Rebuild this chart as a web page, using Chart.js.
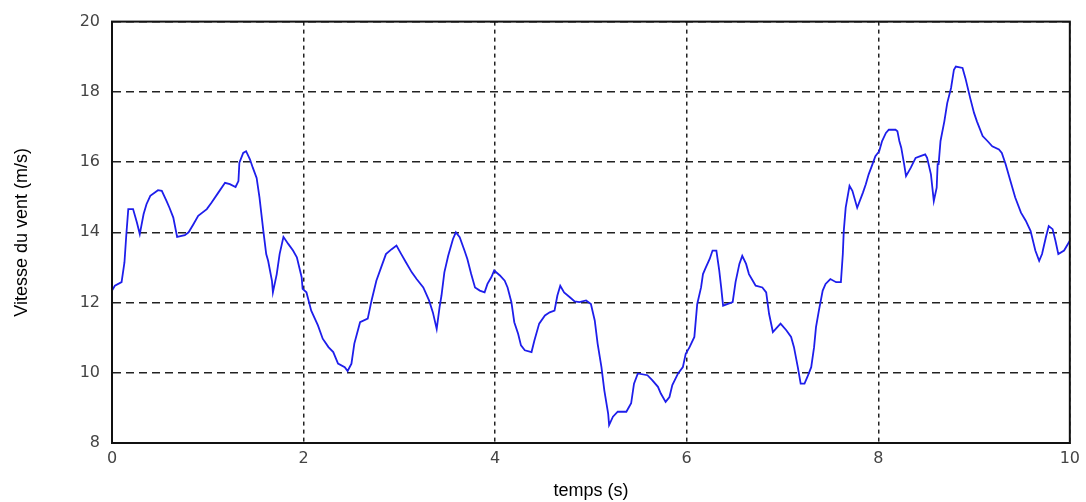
<!DOCTYPE html>
<html>
<head>
<meta charset="utf-8">
<script src="https://cdn.jsdelivr.net/npm/chart.js@4"></script>
<style>
html,body{margin:0;padding:0;background:#fff;}
canvas{display:block;}
</style>
</head>
<body>
<canvas id="c" width="1086" height="502"></canvas>
<script>
const timeS = [0,0.03,0.10,0.13,0.15,0.17,0.22,0.26,0.29,0.33,0.36,0.40,0.48,0.52,0.57,0.60,0.64,0.68,0.76,0.80,0.85,0.90,0.99,1.04,1.11,1.18,1.23,1.29,1.32,1.33,1.37,1.40,1.44,1.47,1.51,1.54,1.58,1.61,1.63,1.67,1.68,1.72,1.75,1.79,1.84,1.89,1.93,1.98,1.99,2.03,2.08,2.15,2.20,2.26,2.31,2.36,2.43,2.46,2.50,2.53,2.59,2.67,2.71,2.76,2.81,2.86,2.92,2.97,3.02,3.07,3.13,3.18,3.25,3.28,3.31,3.35,3.39,3.42,3.44,3.47,3.51,3.56,3.59,3.63,3.68,3.71,3.75,3.79,3.84,3.89,3.92,3.96,3.99,4.05,4.10,4.13,4.17,4.20,4.24,4.27,4.31,4.38,4.41,4.46,4.52,4.57,4.62,4.65,4.68,4.72,4.78,4.83,4.88,4.95,5.00,5.04,5.07,5.11,5.14,5.18,5.19,5.23,5.28,5.37,5.42,5.45,5.49,5.59,5.64,5.70,5.73,5.78,5.82,5.85,5.91,5.96,5.99,6.03,6.08,6.11,6.15,6.17,6.20,6.24,6.27,6.31,6.34,6.36,6.38,6.43,6.48,6.51,6.55,6.58,6.62,6.65,6.69,6.72,6.79,6.83,6.86,6.90,6.93,6.98,7.04,7.09,7.12,7.16,7.19,7.23,7.26,7.30,7.33,7.35,7.38,7.42,7.45,7.50,7.56,7.61,7.63,7.64,7.66,7.70,7.73,7.78,7.84,7.87,7.90,7.94,7.97,8.01,8.04,8.08,8.11,8.18,8.20,8.22,8.24,8.27,8.29,8.34,8.39,8.44,8.49,8.51,8.55,8.58,8.61,8.62,8.63,8.65,8.69,8.72,8.76,8.79,8.81,8.88,8.91,8.96,9.00,9.03,9.09,9.14,9.19,9.26,9.29,9.33,9.38,9.43,9.49,9.54,9.59,9.64,9.68,9.71,9.75,9.78,9.82,9.85,9.88,9.94,10.0];
const windSpeed = [12.34,12.48,12.58,13.14,13.95,14.66,14.66,14.28,13.95,14.52,14.80,15.04,15.20,15.18,14.89,14.70,14.42,13.87,13.92,14.00,14.23,14.47,14.66,14.85,15.13,15.41,15.37,15.29,15.46,15.98,16.26,16.31,16.08,15.84,15.55,14.99,14.04,13.38,13.19,12.62,12.29,12.81,13.38,13.87,13.67,13.48,13.29,12.72,12.39,12.29,11.77,11.35,10.97,10.73,10.59,10.26,10.16,10.05,10.26,10.83,11.44,11.54,12.06,12.62,13.00,13.38,13.52,13.62,13.38,13.14,12.86,12.67,12.43,12.25,12.06,11.72,11.25,11.87,12.20,12.86,13.33,13.81,14.00,13.86,13.48,13.24,12.81,12.43,12.34,12.29,12.53,12.72,12.91,12.77,12.62,12.43,12.01,11.44,11.11,10.78,10.64,10.59,10.92,11.40,11.63,11.72,11.77,12.20,12.48,12.29,12.15,12.03,12.01,12.06,11.96,11.49,10.83,10.16,9.50,8.84,8.51,8.75,8.89,8.89,9.13,9.69,9.98,9.93,9.79,9.60,9.41,9.17,9.31,9.65,9.98,10.16,10.54,10.73,11.02,11.96,12.43,12.81,13.00,13.24,13.48,13.48,12.91,12.43,11.91,11.96,12.01,12.58,13.10,13.33,13.10,12.81,12.62,12.48,12.43,12.29,11.68,11.16,11.25,11.40,11.21,11.02,10.73,10.16,9.69,9.69,9.88,10.16,10.73,11.30,11.77,12.34,12.53,12.67,12.58,12.58,13.38,14.04,14.70,15.32,15.18,14.70,15.13,15.37,15.65,15.94,16.17,16.31,16.60,16.83,16.92,16.92,16.88,16.60,16.41,15.94,15.60,15.84,16.12,16.17,16.22,16.12,15.65,14.89,15.27,15.94,15.94,16.60,17.16,17.68,18.11,18.63,18.72,18.68,18.39,17.82,17.40,17.16,16.74,16.60,16.45,16.36,16.26,15.94,15.46,14.99,14.56,14.33,14.04,13.48,13.19,13.38,13.86,14.18,14.09,13.76,13.38,13.48,13.76];
const xTitle = "temps (s)";
const yTitle = "Vitesse du vent (m/s)";
const xRange = [0, 10, 2];
const yRange = [8, 20, 2];

const points = timeS.map((t, i) => ({x: t, y: windSpeed[i]}));

const boxPlugin = {
  id: 'box',
  afterDraw(chart) {
    const a = chart.chartArea, ctx = chart.ctx;
    ctx.save();
    ctx.strokeStyle = '#111';
    ctx.lineWidth = 2;
    ctx.setLineDash([]);
    ctx.strokeRect(a.left, a.top, a.right - a.left, a.bottom - a.top);
    ctx.restore();
  }
};

new Chart(document.getElementById('c'), {
  type: 'line',
  data: {
    datasets: [{
      data: points,
      borderColor: 'rgb(30,30,235)',
      borderWidth: 1.8,
      pointRadius: 0,
      tension: 0,
      fill: false
    }]
  },
  options: {
    responsive: false,
    animation: false,
    devicePixelRatio: 1,
    layout: { padding: { top: 19, right: 15, left: 0, bottom: 0 } },
    plugins: { legend: { display: false }, tooltip: { enabled: false } },
    scales: {
      x: {
        type: 'linear',
        min: xRange[0], max: xRange[1],
        ticks: { stepSize: xRange[2], color: '#444', font: { family: 'DejaVu Sans', size: 16 }, padding: 6 },
        grid: { color: '#222', lineWidth: 1.5, drawTicks: false, tickLength: 0 },
        border: { display: true, color: '#111', width: 2, dash: [4, 4] },
        title: { display: true, text: xTitle, color: '#000', font: { family: 'Liberation Sans', size: 18 }, padding: { top: 8, bottom: 0 } },
        afterFit(s) { s.height = 59; }
      },
      y: {
        min: yRange[0], max: yRange[1],
        ticks: { stepSize: yRange[2], color: '#444', font: { family: 'DejaVu Sans', size: 16 }, padding: 12 },
        grid: { color: '#222', lineWidth: 1.5, drawTicks: false, tickLength: 0 },
        border: { display: true, color: '#111', width: 2, dash: [8, 5] },
        title: { display: true, text: yTitle, color: '#000', font: { family: 'Liberation Sans', size: 18 }, padding: { top: 11, bottom: 0 } },
        afterFit(s) { s.width = 112; }
      }
    }
  },
  plugins: [boxPlugin]
});
</script>
</body>
</html>
